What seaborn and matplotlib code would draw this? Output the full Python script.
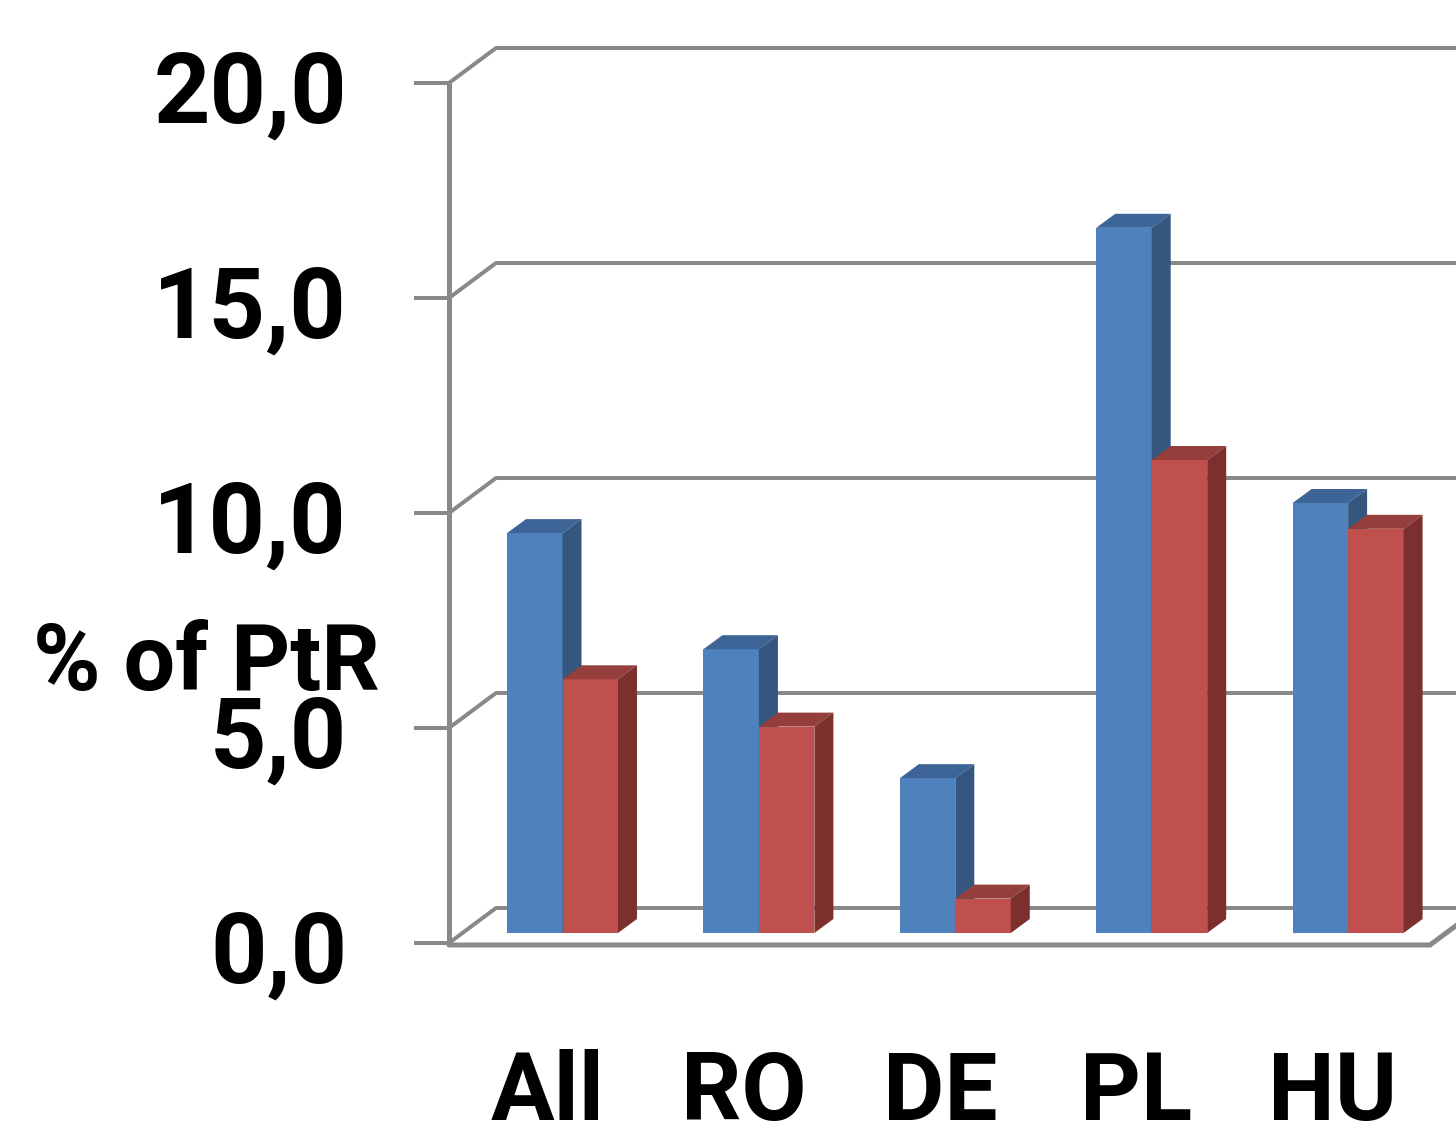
import numpy as np
import pandas as pd
import matplotlib
matplotlib.use("Agg")
import matplotlib.pyplot as plt
from matplotlib.patches import Polygon
import seaborn as sns

# ---- data ----
countries = ["All", "RO", "DE", "PL", "HU"]
series_names = ["Series1", "Series2"]
series1 = [9.3, 6.6, 3.6, 16.4, 10.0]
series2 = [5.9, 4.8, 0.8, 11.0, 9.4]
yticks = [0, 5, 10, 15, 20]
ytick_labels = ["0,0", "5,0", "10,0", "15,0", "20,0"]
ylabel = "% of PtR"

# ---- style ----
sns.set_theme(style="white")
plt.rcParams["font.family"] = ["Roboto", "DejaVu Sans"]

FRONT = {"Series1": "#4F81BD", "Series2": "#C0504D"}
TOP = {"Series1": "#3C6496", "Series2": "#943F3C"}
SIDE = {"Series1": "#34567F", "Series2": "#7C302E"}
GRID = "#898989"

W, H, DPI = 1456, 1131, 100
fig = plt.figure(figsize=(W / DPI, H / DPI), dpi=DPI)
ax = fig.add_axes([0, 0, 1, 1])

# pixel scale of the bar plane
PX_X = 196.4          # pixels per category step
PX_Y = 43.0           # pixels per value unit
X0_PX = 562.5         # first category centre (from left)
Y0_PX = H - 933       # value 0 of bar plane (from bottom)


def set_limits():
    ax.set_xlim(-X0_PX / PX_X, (W - X0_PX) / PX_X)
    ax.set_ylim(-Y0_PX / PX_Y, (H - Y0_PX) / PX_Y)


def dx(p):
    return p / PX_X


def dy(p):
    return p / PX_Y


def pt(px):
    return px * 72 / DPI


set_limits()

# depth offsets (pixels) of front/back planes relative to the bar plane
FRONT_OFF = (-13.4, -10.0)
BACK_OFF = (33.6, 25.0)
BAR_DEPTH = (19.0, 14.0)

x_left = dx(449 + 13.4 - X0_PX)      # left wall, bar plane coords
x_right = dx(1430 + 13.4 - X0_PX)    # right end of front floor line

fx, fy = dx(FRONT_OFF[0]), dy(FRONT_OFF[1])
bx, by = dx(BACK_OFF[0]), dy(BACK_OFF[1])
far_right = dx(W + 50 - X0_PX)

# back wall gridlines, diagonals and front ticks
for v in yticks:
    ax.plot([x_left + bx, far_right], [v + by, v + by], color=GRID,
            lw=pt(4), solid_capstyle="butt", zorder=1, clip_on=False)
    ax.plot([x_left + fx, x_left + bx], [v + fy, v + by], color=GRID,
            lw=pt(4), zorder=1, clip_on=False)
    ax.plot([x_left + fx - dx(35), x_left + fx], [v + fy, v + fy],
            color=GRID, lw=pt(4), solid_capstyle="butt", zorder=1,
            clip_on=False)

# left front axis line
ax.plot([x_left + fx, x_left + fx], [fy - dy(3), 20 + fy], color=GRID,
        lw=pt(5), solid_capstyle="butt", zorder=1, clip_on=False)
# front floor edge
ax.plot([x_left + fx, x_right + fx, x_right + bx + dx(10)],
        [fy - dy(2), fy - dy(2), by - dy(2) + dy(10 * 35 / 47)],
        color=GRID, lw=pt(5), zorder=1, clip_on=False,
        solid_joinstyle="miter")

# ---- bars ----
df = pd.DataFrame({
    "country": countries * 2,
    "series": [series_names[0]] * 5 + [series_names[1]] * 5,
    "value": series1 + series2,
})
sns.barplot(data=df, x="country", y="value", hue="series",
            hue_order=series_names, order=countries,
            palette=[FRONT[s] for s in series_names], saturation=1,
            width=0.565, errorbar=None, legend=False, ax=ax,
            linewidth=0, zorder=2)
set_limits()

ddx, ddy = dx(BAR_DEPTH[0]), dy(BAR_DEPTH[1])
bars = list(ax.patches)
n = len(countries)
z = 3
for i in range(n):
    for k, name in enumerate(series_names):
        p = bars[k * n + i]
        x0, w, h = p.get_x(), p.get_width(), p.get_height()
        p.set_zorder(z)
        top = Polygon([(x0, h), (x0 + w, h), (x0 + w + ddx, h + ddy),
                       (x0 + ddx, h + ddy)], closed=True,
                      facecolor=TOP[name], edgecolor="none", zorder=z)
        side = Polygon([(x0 + w, 0), (x0 + w + ddx, ddy),
                        (x0 + w + ddx, h + ddy), (x0 + w, h)], closed=True,
                       facecolor=SIDE[name], edgecolor="none", zorder=z)
        ax.add_patch(top)
        ax.add_patch(side)
        z += 1

ax.set_axis_off()

# ---- text ----
label_x = dx(347 + 13.4 - X0_PX) + fx
for v, s in zip(yticks, ytick_labels):
    ax.text(label_x, v + fy - dy(40), s, ha="right", va="baseline",
            fontsize=71, fontweight="bold", color="black", zorder=10)

for i, c in enumerate(countries):
    ax.text(i + fx - dx(2), dy(H - 1120 - Y0_PX), c, ha="center",
            va="baseline", fontsize=68, fontweight="bold", color="black",
            zorder=10)

fig.text(206 / W, 1 - 690 / H, ylabel, ha="center", va="baseline",
         fontsize=66, fontweight="bold", color="black")

fig.savefig("out.png", dpi=DPI, facecolor="white")
